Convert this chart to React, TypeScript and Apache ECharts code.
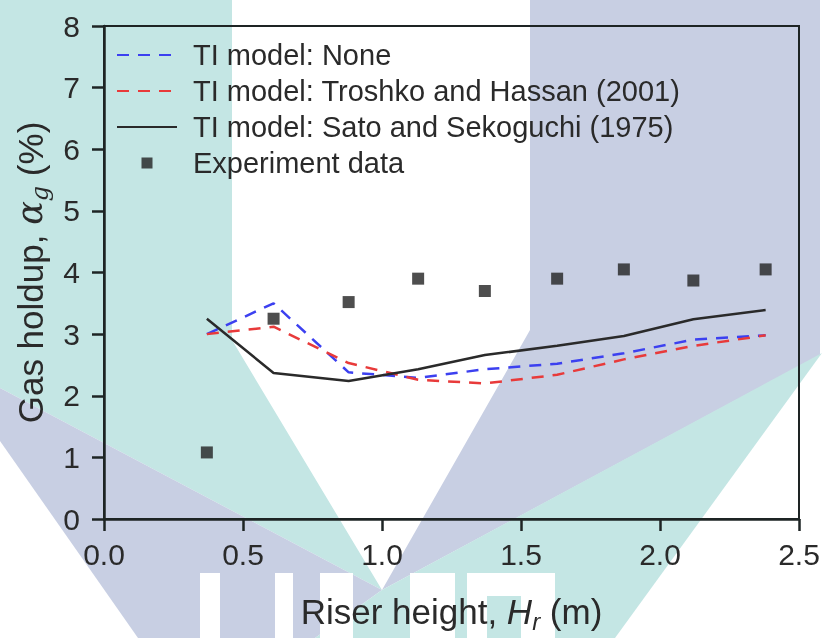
import React, { useEffect, useRef } from "react";
import * as echarts from "echarts";

// ---- data ----
const riserHeight = [0.37, 0.61, 0.88, 1.13, 1.37, 1.63, 1.87, 2.12, 2.38];
const experimentData = [1.08, 3.25, 3.52, 3.9, 3.7, 3.9, 4.05, 3.87, 4.05];
const tiNone = [3.0, 3.5, 2.38, 2.29, 2.43, 2.52, 2.69, 2.91, 2.98];
const tiTroshko = [3.0, 3.12, 2.53, 2.26, 2.2, 2.34, 2.59, 2.81, 2.98];
const tiSato = [3.25, 2.37, 2.24, 2.43, 2.66, 2.81, 2.97, 3.24, 3.39];

const seriesNames = [
  "TI model: None",
  "TI model: Troshko and Hassan (2001)",
  "TI model: Sato and Sekoguchi (1975)",
  "Experiment data",
];

const FONT = "'Liberation Sans', Arial, Helvetica, sans-serif";
const TEXT = "#2a2a2a";
const AXIS = "#1e2424";
const TEAL = "#c4e6e4";
const LAV = "#c8cfe3";

function pairs(xs: number[], ys: number[]) {
  return xs.map((x, i) => [x, ys[i]]);
}

export default function App() {
  const ref = useRef<HTMLDivElement>(null);

  useEffect(() => {
    if (!ref.current) return;
    const chart = echarts.init(ref.current, null, { renderer: "svg" });

    const wm = (points: number[][], fill: string) => ({
      type: "polygon",
      shape: { points },
      style: { fill },
      z: -10,
      silent: true,
    });
    const wr = (x: number, y: number, w: number, h: number, fill: string) => ({
      type: "rect",
      shape: { x, y, width: w, height: h },
      style: { fill },
      z: -9,
      silent: true,
    });

    const option: any = {
      animation: false,
      textStyle: { fontFamily: FONT },
      graphic: {
        elements: [
          wm([[0, 0], [232, 0], [232, 340], [382, 590], [0, 388]], TEAL),
          wm([[530, 0], [820, 0], [820, 355], [382, 590], [530, 330]], LAV),
          wm([[0, 388], [382, 590], [315, 638], [138, 638], [0, 441]], LAV),
          wm([[382, 590], [822, 353], [615, 638], [315, 638]], TEAL),
          wr(200, 573, 20, 65, "#ffffff"),
          wr(275, 573, 18, 65, "#ffffff"),
          wr(320, 573, 33, 65, "#ffffff"),
          wr(410, 573, 45, 65, "#ffffff"),
          wr(467, 573, 88, 65, "#ffffff"),
          wr(487, 596, 34, 42, TEAL),
        ],
      },
      grid: {
        left: 104,
        right: 25,
        top: 26,
        bottom: 114,
        show: true,
        borderColor: AXIS,
        borderWidth: 2,
        backgroundColor: "transparent",
      },
      legend: {
        orient: "vertical",
        left: 116,
        top: 37,
        itemWidth: 60,
        itemHeight: 11,
        itemGap: 0,
        padding: 0,
        textStyle: {
          fontSize: 29,
          lineHeight: 36,
          color: TEXT,
          fontFamily: FONT,
          padding: [0, 0, 0, 11],
        },
        data: [
          { name: seriesNames[0], itemStyle: { opacity: 0 } },
          { name: seriesNames[1], itemStyle: { opacity: 0 } },
          { name: seriesNames[2], itemStyle: { opacity: 0 } },
          { name: seriesNames[3], icon: "path://M0,0L10,0L10,10L0,10Z" },
        ],
      },
      xAxis: {
        type: "value",
        min: 0,
        max: 2.5,
        interval: 0.5,
        name: "{t|Riser height, }{i|H}{s|r}{t| (m)}",
        nameLocation: "middle",
        nameGap: 70,
        nameTextStyle: {
          fontSize: 35,
          lineHeight: 44,
          color: TEXT,
          fontFamily: FONT,
          rich: {
            t: { fontSize: 35, lineHeight: 44, color: TEXT, fontFamily: FONT },
            i: { fontSize: 35, lineHeight: 44, color: TEXT, fontFamily: FONT, fontStyle: "italic" },
            s: {
              fontSize: 24,
              lineHeight: 24,
              color: TEXT,
              fontFamily: FONT,
              fontStyle: "italic",
              verticalAlign: "bottom",
            },
          },
        },
        axisLine: { show: true, lineStyle: { color: AXIS, width: 2.5 } },
        axisTick: { show: true, inside: false, length: 12, lineStyle: { color: AXIS, width: 2.5 } },
        axisLabel: {
          fontSize: 30,
          color: TEXT,
          fontFamily: FONT,
          margin: 20,
          formatter: (v: number) => v.toFixed(1),
        },
        splitLine: { show: false },
      },
      yAxis: {
        type: "value",
        min: 0,
        max: 8,
        interval: 1,
        name: "Gas holdup, {a|α}{s|g} (%)",
        nameLocation: "middle",
        nameGap: 52,
        nameTextStyle: {
          fontSize: 35,
          lineHeight: 44,
          color: TEXT,
          fontFamily: FONT,
          rich: {
            a: {
              fontSize: 35,
              lineHeight: 44,
              color: TEXT,
              fontFamily: "'DejaVu Serif', serif",
              fontStyle: "italic",
            },
            s: {
              fontSize: 24,
              lineHeight: 24,
              color: TEXT,
              fontFamily: "'DejaVu Serif', serif",
              fontStyle: "italic",
              verticalAlign: "bottom",
            },
          },
        },
        axisLine: { show: true, lineStyle: { color: AXIS, width: 2.5 } },
        axisTick: { show: true, inside: false, length: 12, lineStyle: { color: AXIS, width: 2.5 } },
        axisLabel: { fontSize: 30, color: TEXT, fontFamily: FONT, margin: 24 },
        splitLine: { show: false },
      },
      series: [
        {
          name: seriesNames[0],
          type: "line",
          data: pairs(riserHeight, tiNone),
          symbol: "none",
          lineStyle: { color: "#3c40f0", width: 2.5, type: [12, 9] },
          itemStyle: { color: "#3c40f0" },
          z: 3,
        },
        {
          name: seriesNames[1],
          type: "line",
          data: pairs(riserHeight, tiTroshko),
          symbol: "none",
          lineStyle: { color: "#e83a3a", width: 2.5, type: [12, 9] },
          itemStyle: { color: "#e83a3a" },
          z: 3,
        },
        {
          name: seriesNames[2],
          type: "line",
          data: pairs(riserHeight, tiSato),
          symbol: "none",
          lineStyle: { color: "#2a2a2a", width: 2.5, type: "solid" },
          itemStyle: { color: "#2a2a2a" },
          z: 3,
        },
        {
          name: seriesNames[3],
          type: "scatter",
          data: pairs(riserHeight, experimentData),
          symbol: "rect",
          symbolSize: 12,
          itemStyle: { color: "#222222" },
          z: 4,
        },
      ],
    };

    chart.setOption(option);
    return () => chart.dispose();
  }, []);

  return (
    <div
      ref={ref}
      style={{ position: "fixed", left: 0, top: 0, width: 824, height: 638 }}
    />
  );
}
